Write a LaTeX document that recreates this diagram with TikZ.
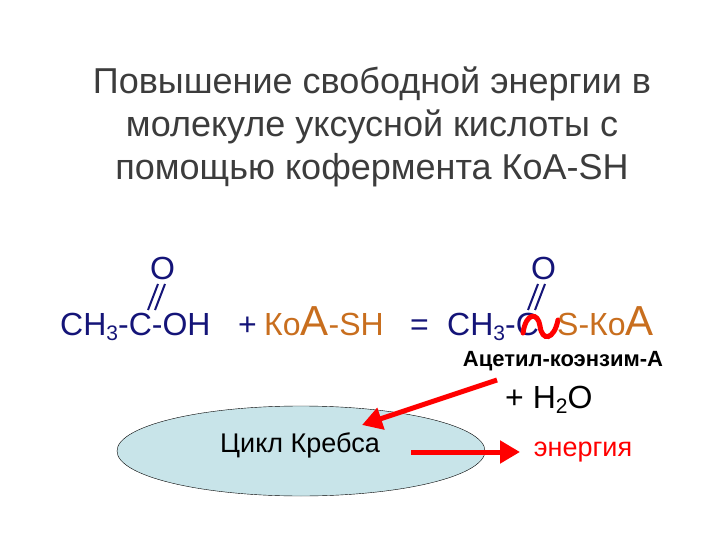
\documentclass[tikz,border=0pt]{standalone}
\usepackage{fontspec}
\setmainfont{Liberation Sans}
\usetikzlibrary{shapes.geometric,arrows.meta}
\definecolor{navy}{RGB}{20,20,120}
\definecolor{koa}{RGB}{200,110,30}
\definecolor{ttl}{RGB}{60,60,60}
\definecolor{ell}{RGB}{200,228,233}
\begin{document}
\begin{tikzpicture}[x=1pt,y=-1pt,
 ttlstyle/.style={text=ttl,font=\fontsize{36}{43}\selectfont,align=center},
 chem/.style={anchor=base west,inner sep=0pt,font=\fontsize{32}{34}\selectfont},
 redarrow/.style={red,line width=5pt,-{Triangle[length=20pt,width=22pt]}}]
\useasboundingbox (0,0) rectangle (720,540);
\node[ttlstyle] (title) at (372,127) {Повышение свободной энергии в\\молекуле уксусной кислоты с\\помощью кофермента КоА-SH};
\node[chem,text=navy] (acid) at (60,335) {CH\raisebox{-0.3ex}{\fontsize{21}{22}\selectfont 3}-C-OH};
\node[chem,text=navy] (o1) at (150,279) {O};
\coordinate (c1a) at (148,310); \coordinate (c1b) at (158,284);
\draw[navy,line width=2pt] (c1a) -- (c1b) ([xshift=7pt]c1a) -- ([xshift=7pt]c1b);
\node[chem,text=navy] (plus1) at (238,335) {+};
\node[chem,text=koa] (koa1) at (264,335) {Ко{\fontsize{42}{44}\selectfont А}-SH};
\node[chem,text=navy] (eq) at (410,335) {=};
\node[chem,text=navy] (acyl) at (447,335) {CH\raisebox{-0.3ex}{\fontsize{21}{22}\selectfont 3}-C};
\node[chem,text=navy] (o2) at (531,279) {O};
\coordinate (c2a) at (528,310); \coordinate (c2b) at (538,284);
\draw[navy,line width=2pt] (c2a) -- (c2b) ([xshift=7pt]c2a) -- ([xshift=7pt]c2b);
\coordinate (w1) at (523,333); \coordinate (w2) at (558,320);
\draw[red,line width=5pt,line cap=round] (w1) .. controls (526,312) and (538,312) .. (540,326) .. controls (542,342) and (554,340) .. (w2);
\node[chem,text=koa] (skoa) at (557,335) {S-Ко{\fontsize{42}{44}\selectfont А}};
\node[anchor=base,inner sep=0pt,font=\bfseries\fontsize{22}{24}\selectfont] (acetyl) at (563,366) {Ацетил-коэнзим-А};
\node[chem] (h2o) at (505,408) {+ H\raisebox{-0.3ex}{\fontsize{21}{22}\selectfont 2}O};
\node[draw=black,thin,fill=ell,ellipse,minimum width=368pt,minimum height=90pt,inner sep=0pt] (krebs) at (301,451) {};
\node[inner sep=0pt,font=\fontsize{27}{29}\selectfont] (krebstext) at (300,445) {Цикл Кребса};
\node[inner sep=0pt,text=red,font=\fontsize{27}{29}\selectfont] (energy) at (583,452) {энергия};
\coordinate (a1) at (497,380);
\draw[redarrow] (a1) -- (362,425);
\draw[redarrow] (411,452) -- (520,452);
\end{tikzpicture}
\end{document}
